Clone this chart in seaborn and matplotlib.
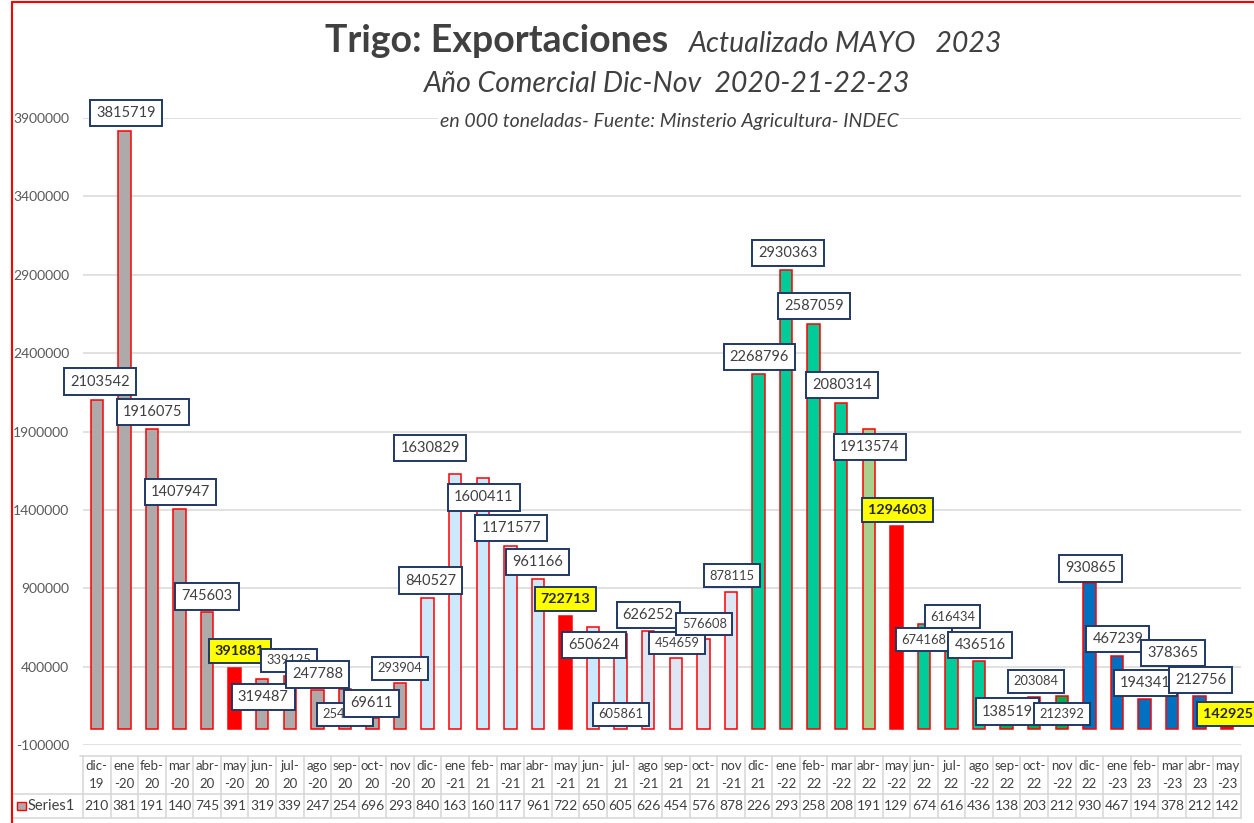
import matplotlib.pyplot as plt
import matplotlib.transforms as mtransforms
from matplotlib.lines import Line2D
from matplotlib.patches import Rectangle
from matplotlib.ticker import FuncFormatter
import seaborn as sns

sns.set_theme(style="white")
plt.rcParams["font.family"] = ["Lato", "DejaVu Sans"]

W, H = 1254, 823

meses = [
    "dic-19", "ene-20", "feb-20", "mar-20", "abr-20", "may-20", "jun-20", "jul-20",
    "ago-20", "sep-20", "oct-20", "nov-20", "dic-20", "ene-21", "feb-21", "mar-21",
    "abr-21", "may-21", "jun-21", "jul-21", "ago-21", "sep-21", "oct-21", "nov-21",
    "dic-21", "ene-22", "feb-22", "mar-22", "abr-22", "may-22", "jun-22", "jul-22",
    "ago-22", "sep-22", "oct-22", "nov-22", "dic-22", "ene-23", "feb-23", "mar-23",
    "abr-23", "may-23",
]
toneladas = [
    2103542, 3815719, 1916075, 1407947, 745603, 391881, 319487, 339125,
    247788, 254318, 69611, 293904, 840527, 1630829, 1600411, 1171577,
    961166, 722713, 650624, 605861, 626252, 454659, 576608, 878115,
    2268796, 2930363, 2587059, 2080314, 1913574, 1294603, 674168, 616434,
    436516, 138519, 203084, 212392, 930865, 467239, 194341, 378365,
    212756, 142925,
]
destacados = ["may-20", "may-21", "may-22", "may-23"]
yticks = list(range(-100000, 3900001, 500000))

# colores por campaña
colores = (["#AEAAAA"] * 12 + ["#CCE9FB"] * 8 + ["#DDE7F3"] * 4
           + ["#00CC99"] * 4 + ["#A9D18E", "#FF0000"] + ["#00CC99"] * 3
           + ["#00B050"] * 3 + ["#0070C0"] * 6)
colores = ["#FF0000" if m in destacados else c for m, c in zip(meses, colores)]

# posicion de las etiquetas respecto del tope de cada barra (pixeles)
lab_dx = [3, 2, 1, 1, 0, 5, 1, -1, 0, 0, -1, 0, 3, -25, 1, 1, 0, 0, 1, 0, 0,
          1, 1, 1, 1, 2, 0, 1, 1, 1, 0, 1, 1, 1, 2, 0, 1, 1, 1, 1, 1, 1]
lab_dy = [18, 18, 17, 17, 16, 17, -18, 16, 16, -25, 15, 15, 17, 26, -19, 18,
          17, 17, -18, -80, 16, 15, 15, 16, 17, 17, 18, 18, -18, 16, -16, 16,
          16, -4, 16, -18, 15, 17, 16, 17, 16, -7]
chicas = {7, 9, 11, 19, 21, 22, 23, 30, 31, 34, 35}


def fx(px):
    return px / W


def fy(py):
    return 1 - py / H


fig = plt.figure(figsize=(W / 100, H / 100), dpi=100)
ax = fig.add_axes([fx(83), fy(745), fx(1241) - fx(83), fy(118) - fy(745)])

sns.barplot(x=meses, y=toneladas, hue=meses, palette=dict(zip(meses, colores)),
            legend=False, width=0.45, saturation=1, edgecolor="#FF0000",
            linewidth=1.1, ax=ax)

ax.set_xlim(-0.5, len(meses) - 0.5)
ax.set_ylim(-100000, 3900000)
ax.set_yticks(yticks)
ax.yaxis.set_major_formatter(FuncFormatter(lambda v, p: f"{v:.0f}"))
ax.tick_params(axis="y", length=0, pad=10, labelsize=10, labelcolor="#595959")
ax.tick_params(axis="x", length=0, labelbottom=False)
ax.set_xlabel("")
ax.set_ylabel("")
ax.yaxis.grid(True, color="#D9D9D9", lw=1.1)
ax.set_axisbelow(True)
for s in ax.spines.values():
    s.set_visible(False)

# etiquetas de datos
for i, (m, v) in enumerate(zip(meses, toneladas)):
    if m in destacados:
        kw = dict(fontsize=10.4, fontweight="bold", color="#262626",
                  bbox=dict(boxstyle="square,pad=0.42", fc="#FFFF00", ec="#1F3864", lw=1.4))
    else:
        kw = dict(fontsize=9.3 if i in chicas else 10.5, color="#404040",
                  bbox=dict(boxstyle="square,pad=0.42", fc="white", ec="#1F3864", lw=1.4))
    ax.annotate(str(v), xy=(i, v), xytext=(lab_dx[i], lab_dy[i]),
                textcoords="offset pixels", ha="center", va="center",
                annotation_clip=False, zorder=5 + i * 0.01, **kw)

# tabla de datos bajo el eje
tr = mtransforms.blended_transform_factory(ax.transData, fig.transFigure)
gris = "#D9D9D9"
n = len(meses)
fig.add_artist(Line2D([fx(80), fx(1241)], [fy(756), fy(756)], color=gris, lw=1.2))
fig.add_artist(Line2D([fx(12), fx(1241)], [fy(794), fy(794)], color=gris, lw=1.2))
fig.add_artist(Line2D([fx(12), fx(1241)], [fy(818), fy(818)], color=gris, lw=1.2))
for k in range(n + 1):
    ax.add_line(Line2D([k - 0.5, k - 0.5], [fy(756), fy(818)], transform=tr,
                       color=gris, lw=1.2, clip_on=False))
con_guion = {"dic", "feb", "abr", "jun", "jul", "sep", "oct"}
for i, (m, v) in enumerate(zip(meses, toneladas)):
    mes, anio = m.split("-")
    l1, l2 = (mes + "-", anio) if mes in con_guion else (mes, "-" + anio)
    ax.text(i, fy(766), l1, transform=tr, ha="center", va="center",
            fontsize=9.5, color="#404040")
    ax.text(i, fy(784), l2, transform=tr, ha="center", va="center",
            fontsize=9.5, color="#404040")
    ax.text(i, fy(806), str(v)[:3], transform=tr, ha="center", va="center",
            fontsize=10, color="#404040")
fig.add_artist(Rectangle((fx(17), fy(810)), fx(9), fy(802) - fy(810),
                         fc="#AEAAAA", ec="#FF0000", lw=1.0))
fig.text(fx(28), fy(806), "Series1", ha="left", va="center", fontsize=10.5,
         color="#404040")

# marco rojo del grafico
fig.add_artist(Line2D([fx(12), fx(12)], [0, fy(2)], color="#FF0000", lw=1.5))
fig.add_artist(Line2D([fx(12), 1], [fy(2), fy(2)], color="#FF0000", lw=1.5))

# titulos
fig.text(fx(668), fy(52), "Trigo: Exportaciones", ha="right", va="baseline",
         fontsize=27, fontweight="bold", color="#404040")
fig.text(fx(689), fy(52), "Actualizado MAYO   2023", ha="left", va="baseline",
         fontsize=20.5, style="italic", color="#404040")
fig.text(fx(667), fy(92), "Año Comercial Dic-Nov  2020-21-22-23", ha="center",
         va="baseline", fontsize=20.5, style="italic", color="#404040")
fig.text(fx(669), fy(127), "en 000 toneladas- Fuente: Minsterio Agricultura- INDEC",
         ha="center", va="baseline", fontsize=14, style="italic", color="#404040",
         bbox=dict(fc="white", ec="none", pad=1))

fig.savefig("out.png", dpi=100)
